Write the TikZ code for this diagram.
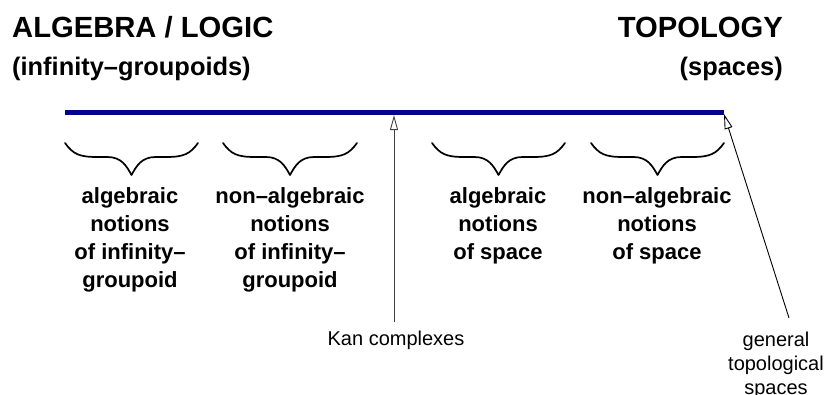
\documentclass[tikz,border=0pt]{standalone}
\usepackage{fontspec}
\setmainfont{Liberation Sans}
\usetikzlibrary{arrows.meta}
\definecolor{barblue}{RGB}{0,0,145}
\tikzset{
  titlebig/.style={inner sep=0pt, font=\fontsize{29.2}{32}\selectfont\bfseries},
  titlesmall/.style={inner sep=0pt, font=\fontsize{25.4}{30}\selectfont\bfseries},
  notion/.style={inner sep=0pt, align=center, font=\fontsize{22}{28}\selectfont\bfseries},
  plainlab/.style={inner sep=0pt, align=center, font=\fontsize{20}{24}\selectfont},
  bracepath/.style={line width=1.7pt, line cap=round, line join=round},
  pointer/.style={line width=0.9pt, -{Triangle[open,length=15pt,width=8pt,line width=0.9pt]}},
}
\begin{document}
\begin{tikzpicture}[x=1pt,y=-1pt]
\useasboundingbox (0,0) rectangle (829,394);
% titles
\node[titlebig, anchor=base west] (alg) at (12,37) {ALGEBRA / LOGIC};
\node[titlesmall, anchor=base west] (algsub) at (12,75) {(infinity–groupoids)};
\node[titlebig, anchor=base east] (top) at (783,37) {TOPOLOGY};
\node[titlesmall, anchor=base east] (topsub) at (783,75) {(spaces)};
% bar
\coordinate (L) at (65,112.5);
\coordinate (R) at (724,112.5);
\draw[barblue, line width=5pt] (L) -- (R);
\coordinate (K) at (394,115);
\coordinate (T) at (724,114);
% braces
\foreach \a/\b in {65/198, 223/357, 432/565, 591/724}{
  \pgfmathsetmacro{\m}{(\a+\b)/2}
  \draw[bracepath] (\a,143) .. controls ({\a+8},154) and ({\a+14},157) .. ({\a+32},157)
    -- ({\m-24},157) .. controls ({\m-10},157) and ({\m-5},166) .. (\m,175)
    .. controls ({\m+5},166) and ({\m+10},157) .. ({\m+24},157)
    -- ({\b-32},157) .. controls ({\b-14},157) and ({\b-8},154) .. (\b,143);
}
% notions (base anchor = baseline of last line)
\node[notion, anchor=base] (n1) at (130,287) {algebraic\\notions\\of infinity–\\groupoid};
\node[notion, anchor=base] (n2) at (290,287) {non–algebraic\\notions\\of infinity–\\groupoid};
\node[notion, anchor=base] (n3) at (498,259) {algebraic\\notions\\of space};
\node[notion, anchor=base] (n4) at (657,259) {non–algebraic\\notions\\of space};
% lower labels
\node[plainlab, anchor=base] (kan) at (396,345) {Kan complexes};
\node[plainlab, anchor=base] (gts) at (776,394) {general\\topological\\spaces};
\coordinate (gtstop) at (789,318);
\draw[pointer, black!75, shorten <=8pt] (kan.north -| K) -- (K);
\draw[pointer] (gtstop) -- (T);
\end{tikzpicture}
\end{document}
